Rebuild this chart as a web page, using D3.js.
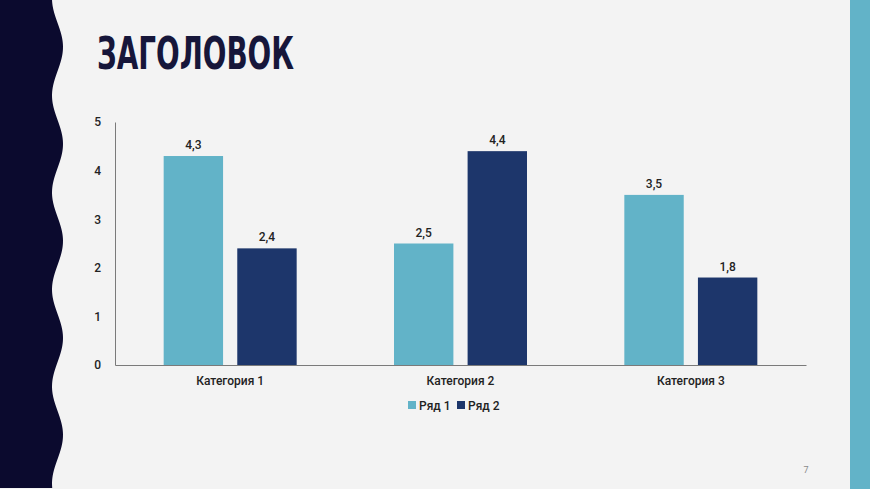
<!DOCTYPE html>
<html>
<head>
<meta charset="utf-8">
<script src="https://cdn.jsdelivr.net/npm/d3@7"></script>
<style>
html,body{margin:0;padding:0;background:#f3f3f3;}
svg{display:block;}
</style>
</head>
<body>
<svg id="c" width="870" height="489"></svg>
<script>
const categories = ["Категория 1", "Категория 2", "Категория 3"];
const seriesNames = ["Ряд 1", "Ряд 2"];
const series1 = [4.3, 2.5, 3.5];
const series2 = [2.4, 4.4, 1.8];
const yTicks = [0, 1, 2, 3, 4, 5];
const valueLabels1 = ["4,3", "2,5", "3,5"];
const valueLabels2 = ["2,4", "4,4", "1,8"];
const title = "ЗАГОЛОВОК";
const pageNumber = "7";

const colors = ["#62b3c8", "#1d366b"];
const svg = d3.select("#c");
const W = 870, H = 489;

svg.append("rect").attr("width", W).attr("height", H).attr("fill", "#f3f3f3");

// left wavy band
const wavePts = [];
for (let y = 0; y <= H; y += 2) {
  wavePts.push([57.5 + 5.5 * Math.cos(2 * Math.PI * (y - 47) / 97), y]);
}
const area = d3.area().x0(0).x1(d => d[0]).y(d => d[1]).curve(d3.curveBasis);
svg.append("path").attr("d", area(wavePts)).attr("fill", "#0b0a2e");

// right band
svg.append("rect").attr("x", 850).attr("y", 0).attr("width", 20).attr("height", H).attr("fill", "#62b3c8");

// title
svg.append("text").attr("x", 97).attr("y", 69)
  .attr("font-family", "'Liberation Sans Narrow', 'DejaVu Sans Condensed', sans-serif")
  .attr("font-weight", "bold").attr("font-size", 45)
  .attr("fill", "#16163a")
  .attr("textLength", 197).attr("lengthAdjust", "spacingAndGlyphs")
  .text(title);

const m = {l: 115, r: 806, t: 122, b: 365};
const x0 = d3.scaleBand().domain(categories).range([m.l, m.r]).padding(0);
const gw = 133;
const x1 = d3.scaleBand().domain(seriesNames)
  .range([(x0.bandwidth() - gw) / 2, (x0.bandwidth() + gw) / 2]).paddingInner(0.193);
const y = d3.scaleLinear().domain([0, 5]).range([m.b, m.t]);

const font = "Roboto, sans-serif";

// bars
const data = categories.map((c, i) => ({c, vals: [series1[i], series2[i]], labs: [valueLabels1[i], valueLabels2[i]]}));
const g = svg.append("g");
data.forEach(d => {
  d.vals.forEach((v, j) => {
    const bx = x0(d.c) + x1(seriesNames[j]);
    g.append("rect").attr("x", bx).attr("y", y(v))
      .attr("width", x1.bandwidth()).attr("height", y(0) - y(v))
      .attr("fill", colors[j]);
    g.append("text").attr("x", bx + x1.bandwidth() / 2).attr("y", y(v) - 7)
      .attr("text-anchor", "middle").attr("font-family", font).attr("font-weight", 500)
      .attr("font-size", 12).attr("fill", "#222").text(d.labs[j]);
  });
});

// axes
const yAxis = d3.axisLeft(y).tickValues(yTicks).tickSize(0).tickPadding(14).tickFormat(d3.format("d"));
const ya = svg.append("g").attr("transform", `translate(${m.l},0)`).call(yAxis);
ya.select(".domain").attr("stroke", "#7a7a7a");
ya.selectAll("text").attr("font-family", font).attr("font-weight", 500).attr("font-size", 12).attr("fill", "#222");

const xAxis = d3.axisBottom(x0).tickSize(0).tickPadding(11);
const xa = svg.append("g").attr("transform", `translate(0,${m.b})`).call(xAxis);
xa.select(".domain").attr("stroke", "#7a7a7a");
xa.selectAll("text").attr("font-family", font).attr("font-weight", 500).attr("font-size", 12).attr("fill", "#222");

// legend
const legX = [408, 457];
seriesNames.forEach((s, j) => {
  svg.append("rect").attr("x", legX[j]).attr("y", 401).attr("width", 8).attr("height", 8).attr("fill", colors[j]);
  svg.append("text").attr("x", legX[j] + 11).attr("y", 409.5)
    .attr("font-family", font).attr("font-weight", 500).attr("font-size", 12).attr("fill", "#222").text(s);
});

// page number
svg.append("text").attr("x", 806).attr("y", 473).attr("text-anchor", "middle")
  .attr("font-family", font).attr("font-size", 9).attr("fill", "#8a8a8a").text(pageNumber);
</script>
</body>
</html>
